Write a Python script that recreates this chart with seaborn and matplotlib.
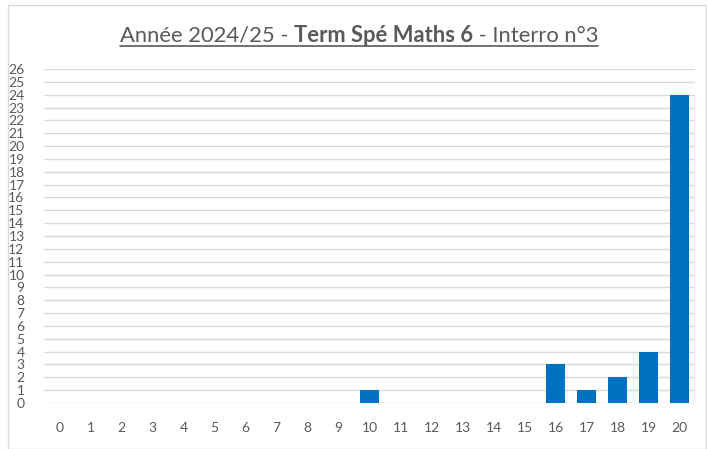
import matplotlib
matplotlib.use("Agg")
import matplotlib.pyplot as plt
import seaborn as sns
import pandas as pd
from matplotlib.patches import Rectangle
from matplotlib.lines import Line2D

notes = [str(i) for i in range(21)]
effectifs = [0, 0, 0, 0, 0, 0, 0, 0, 0, 0, 1, 0, 0, 0, 0, 0, 3, 1, 2, 4, 24]
y_ticks = list(range(0, 27))

sns.set_theme(style="white")
plt.rcParams['font.family'] = ['Lato', 'DejaVu Sans']

W, H = 707, 449
fig = plt.figure(figsize=(W / 100, H / 100), dpi=100)
fig.patch.set_facecolor("white")

# chart border
fig.add_artist(Rectangle((8 / W, 0), (W - 9) / W, 1 - 5 / H, transform=fig.transFigure,
                         fill=False, edgecolor="#D9D9D9", linewidth=1))

ax = fig.add_axes([44 / W, 1 - 403 / H, 651 / W, (403 - 69) / H])
df = pd.DataFrame({"note": notes, "n": effectifs})
sns.barplot(data=df, x="note", y="n", color="#0070C0", saturation=1, width=0.645, ax=ax,
            zorder=3, linewidth=0, edgecolor="none")
ax.set_ylim(0, 26)
ax.set_xlim(-0.5, 20.5)
ax.set_yticks(y_ticks)
ax.set_yticklabels([str(t) for t in y_ticks])
ax.grid(axis="y", color="#D9D9D9", linewidth=1, zorder=0)
ax.set_axisbelow(True)
for s in ax.spines.values():
    s.set_visible(False)
ax.set_xlabel("")
ax.set_ylabel("")
ax.tick_params(axis="both", length=0, labelsize=10, colors="#595959")
ax.tick_params(axis="x", pad=14)
ax.tick_params(axis="y", pad=14)

# title with mixed weights
parts = [("Année 2024/25 - ", "normal"), ("Term Spé Maths 6", "bold"), (" - Interro n°3", "normal")]
fig.canvas.draw()
renderer = fig.canvas.get_renderer()
texts = []
widths = []
for s, w in parts:
    t = fig.text(0, 0, s, fontsize=15.8, fontweight=w, color="#595959", va="baseline", ha="left")
    texts.append(t)
    widths.append(t.get_window_extent(renderer).width)
total = sum(widths)
x0 = 359 - total / 2
base_y = H - 42
x = x0
for t, wd in zip(texts, widths):
    t.set_position((x / W, base_y / H))
    x += wd
fig.add_artist(Line2D([x0 / W, (x0 + total) / W], [(base_y - 4) / H] * 2,
                      transform=fig.transFigure, color="#595959", linewidth=1.2))

fig.savefig("out.png", dpi=100)
